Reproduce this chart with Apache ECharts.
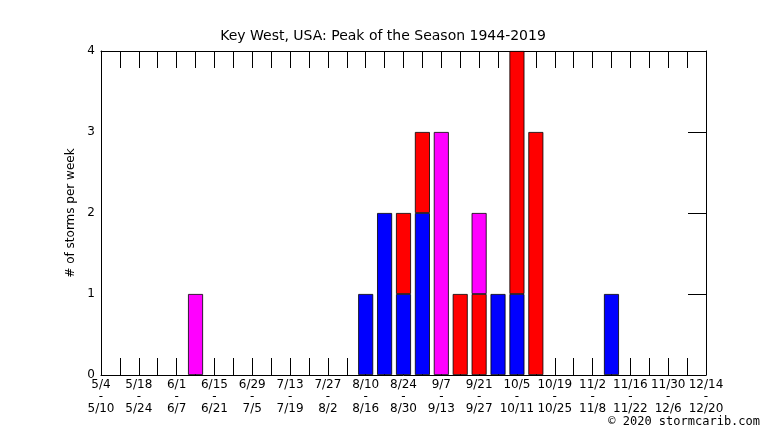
<!DOCTYPE html>
<html>
<head>
<meta charset="utf-8">
<script src="https://cdn.jsdelivr.net/npm/echarts@6/dist/echarts.min.js"></script>
<style>
  html, body { margin: 0; padding: 0; background: #fff; }
  #chart { width: 766px; height: 431px; }
</style>
</head>
<body>
<div id="chart"></div>
<script>
// week index 0..32, label every second week
const tickLabels = ['5/4\n-\n5/10', '5/18\n-\n5/24', '6/1\n-\n6/7', '6/15\n-\n6/21', '6/29\n-\n7/5',
    '7/13\n-\n7/19', '7/27\n-\n8/2', '8/10\n-\n8/16', '8/24\n-\n8/30', '9/7\n-\n9/13',
    '9/21\n-\n9/27', '10/5\n-\n10/11', '10/19\n-\n10/25', '11/2\n-\n11/8', '11/16\n-\n11/22',
    '11/30\n-\n12/6', '12/14\n-\n12/20'];
const weeks = Array.from({ length: 33 }, (_, i) => String(i));

// storms per week by category (blue / red / magenta)
const blueWeeks = [14, 15, 16, 17, 21, 22, 27];
const blueValues = [1, 2, 1, 2, 1, 1, 1];
const redWeeks = [16, 17, 19, 20, 22, 23];
const redValues = [1, 1, 1, 1, 3, 3];
const magentaWeeks = [5, 18, 20];
const magentaValues = [1, 3, 1];

function toSeries(ws, vs) {
    const out = weeks.map(() => '-');
    ws.forEach((w, i) => { out[w] = vs[i]; });
    return out;
}

const chart = echarts.init(document.getElementById('chart'));
const font = 'DejaVu Sans';
const bar = (name, color, ws, vs) => ({
    name, type: 'bar', stack: 'all', data: toSeries(ws, vs), barWidth: 15,
    itemStyle: { color, borderColor: '#000', borderWidth: 0.8 }, xAxisIndex: 0, yAxisIndex: 0
});

chart.setOption({
    animation: false,
    title: {
        text: 'Key West, USA: Peak of the Season 1944-2019',
        left: 'center', top: 24,
        textStyle: { fontFamily: font, fontSize: 14, fontWeight: 'normal', color: '#000' }
    },
    graphic: [{
        type: 'text', right: 6, bottom: 3,
        style: { text: '© 2020 stormcarib.com', font: '12px "DejaVu Sans Mono"', fill: '#000' }
    }],
    grid: { left: 101, right: 60, top: 51, bottom: 56 },
    xAxis: [{
        type: 'category', data: weeks, boundaryGap: false,
        axisLine: { lineStyle: { color: '#000', width: 1 } },
        axisTick: { inside: true, length: 17, interval: 0, lineStyle: { color: '#000' } },
        axisLabel: {
            interval: 1, fontFamily: font, fontSize: 12, color: '#000', lineHeight: 12, margin: 4,
            formatter: (v, i) => tickLabels[i / 2] || ''
        }
    }, {
        type: 'category', data: weeks, boundaryGap: false, position: 'top',
        axisLine: { show: true, onZero: false, lineStyle: { color: '#000', width: 1 } },
        axisTick: { show: true, inside: true, length: 17, interval: 0, lineStyle: { color: '#000' } },
        axisLabel: { show: false }
    }],
    yAxis: [{
        type: 'value', min: 0, max: 4, interval: 1,
        name: '# of storms per week', nameLocation: 'middle', nameGap: 20,
        nameTextStyle: { fontFamily: font, fontSize: 12, color: '#000' },
        axisLine: { show: true, lineStyle: { color: '#000' } },
        axisTick: { inside: true, length: 18, lineStyle: { color: '#000' } },
        splitLine: { show: false },
        axisLabel: { fontFamily: font, fontSize: 12, color: '#000', margin: 6 }
    }, {
        type: 'value', min: 0, max: 4, interval: 1, position: 'right',
        axisLine: { show: true, onZero: false, lineStyle: { color: '#000' } },
        axisTick: { show: true, inside: true, length: 18, lineStyle: { color: '#000' } },
        splitLine: { show: false }, axisLabel: { show: false }
    }],
    series: [
        bar('blue', '#0000ff', blueWeeks, blueValues),
        bar('red', '#ff0000', redWeeks, redValues),
        bar('magenta', '#ff00ff', magentaWeeks, magentaValues),
        { type: 'line', data: [], xAxisIndex: 1, yAxisIndex: 1, silent: true }
    ]
});
</script>
</body>
</html>
